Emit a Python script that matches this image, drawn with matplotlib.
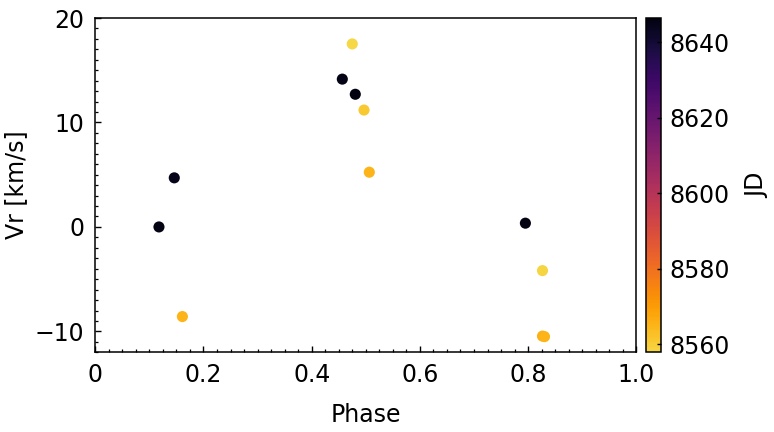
import numpy as np
import matplotlib
matplotlib.use("Agg")
import matplotlib.pyplot as plt
from matplotlib.colors import ListedColormap
from matplotlib.ticker import MultipleLocator, FixedLocator, FixedFormatter

# phase-folded radial velocities, colored by JD
phase = [0.1177, 0.146, 0.161, 0.4566, 0.475, 0.4806, 0.4967, 0.5065, 0.795, 0.8266, 0.8266, 0.8303]
vr = [0.0, 4.70, -8.58, 14.15, 17.52, 12.70, 11.19, 5.24, 0.36, -4.18, -10.45, -10.50]
jd = [8645.5, 8645.0, 8565.0, 8645.2, 8557.9, 8646.4, 8561.0, 8565.5, 8646.0, 8558.5, 8566.0, 8565.0]

xticks = [0, 0.2, 0.4, 0.6, 0.8, 1.0]
xticklabels = ["0", "0.2", "0.4", "0.6", "0.8", "1.0"]
yticks = [-10, 0, 10, 20]
cbticks = [8560, 8580, 8600, 8620, 8640]

plt.rcParams["font.family"] = ["DejaVu Sans"]
plt.rcParams["font.size"] = 17

# reversed inferno, cut before the pale end
cmap = ListedColormap(plt.cm.inferno(np.linspace(0.9, 0.03, 256)))

fig = plt.figure(figsize=(7.74, 4.32), dpi=100)
ax = fig.add_axes([0.1231, 0.1845, 0.699, 0.7738])
cax = fig.add_axes([0.8346, 0.1845, 0.019, 0.7738])

sc = ax.scatter(phase, vr, c=jd, cmap=cmap, s=64, edgecolors="none", zorder=3)

ax.set_xlim(0, 1)
ax.set_ylim(-12, 20)
ax.xaxis.set_major_locator(FixedLocator(xticks))
ax.xaxis.set_major_formatter(FixedFormatter(xticklabels))
ax.xaxis.set_minor_locator(MultipleLocator(0.025))
ax.yaxis.set_major_locator(FixedLocator(yticks))
ax.yaxis.set_minor_locator(MultipleLocator(1))
ax.tick_params(which="both", direction="in", top=False, right=False)
ax.tick_params(which="major", length=4, width=1, pad=8)
ax.tick_params(which="minor", length=2.2, width=0.9)
for sp in ax.spines.values():
    sp.set_linewidth(1.1)

ax.set_xlabel("Phase", labelpad=11)
ax.set_ylabel("Vr [km/s]", labelpad=5)

cb = fig.colorbar(sc, cax=cax)
cb.set_ticks(cbticks)
cb.ax.tick_params(direction="in", length=3, width=1, pad=6)
cb.outline.set_linewidth(1.1)
cb.set_label("JD", labelpad=11)

fig.savefig("out.png", dpi=100)
